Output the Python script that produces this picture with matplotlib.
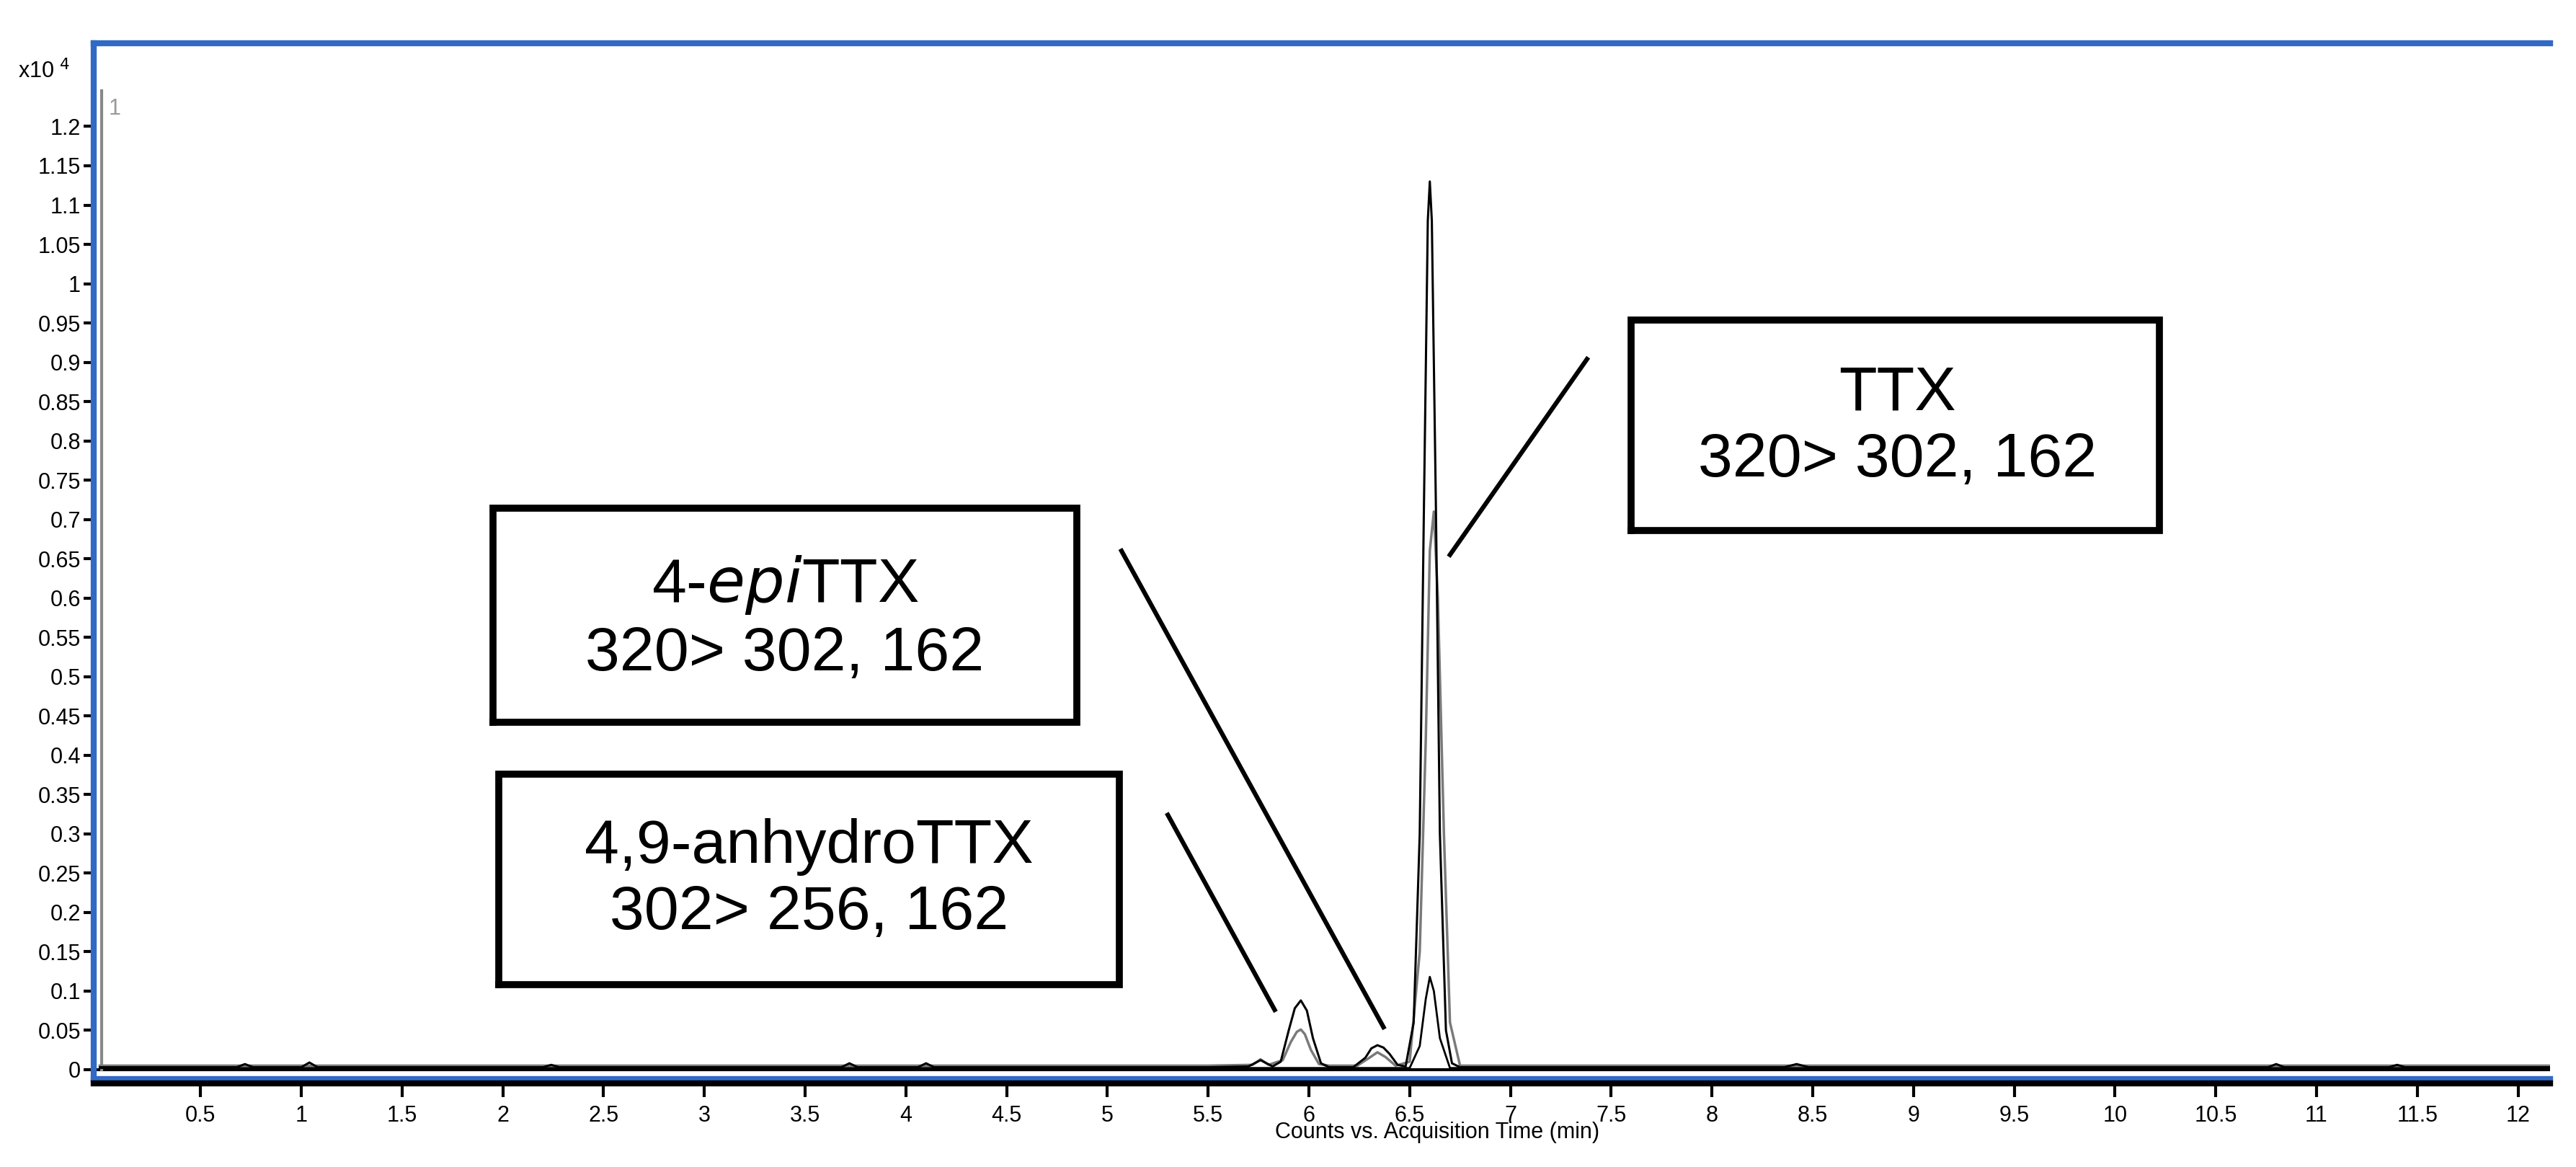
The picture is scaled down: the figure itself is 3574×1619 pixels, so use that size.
import matplotlib.pyplot as plt
import matplotlib.lines as mlines

plt.rcParams['font.family'] = ['Liberation Sans', 'DejaVu Sans']

# trace 1 (black, outer envelope)
t1 = [0.0, 0.68, 0.72, 0.76, 1.0, 1.04, 1.08, 2.2, 2.24, 2.28, 3.68, 3.72, 3.76, 4.06, 4.1, 4.14,
      5.5, 5.7, 5.76, 5.82, 5.86, 5.9, 5.93, 5.96, 5.99, 6.02, 6.06, 6.1, 6.22, 6.28, 6.31, 6.34,
      6.37, 6.4, 6.44, 6.48, 6.52, 6.55, 6.57, 6.59, 6.6, 6.61, 6.63, 6.65, 6.68, 6.71, 6.75,
      8.36, 8.42, 8.48, 10.76, 10.8, 10.84, 11.36, 11.4, 11.44, 12.2]
c1 = [0.003, 0.003, 0.007, 0.003, 0.003, 0.009, 0.003, 0.003, 0.006, 0.003, 0.003, 0.008, 0.003,
      0.003, 0.008, 0.003,
      0.003, 0.004, 0.012, 0.004, 0.01, 0.05, 0.078, 0.088, 0.075, 0.04, 0.008, 0.003, 0.003, 0.015,
      0.027, 0.031, 0.028, 0.02, 0.006, 0.004, 0.06, 0.3, 0.7, 1.08, 1.13, 1.08, 0.72, 0.3, 0.05,
      0.008, 0.003,
      0.003, 0.007, 0.003, 0.003, 0.007, 0.003, 0.003, 0.006, 0.003, 0.003]

# trace 2 (gray)
t2 = [0.0, 5.5, 5.72, 5.76, 5.8, 5.87, 5.91, 5.94, 5.96, 5.98, 6.01, 6.05, 6.1, 6.24, 6.3, 6.34,
      6.38, 6.43, 6.5, 6.55, 6.58, 6.6, 6.62, 6.64, 6.67, 6.7, 6.75, 12.2]
c2 = [0.005, 0.005, 0.006, 0.013, 0.006, 0.012, 0.035, 0.048, 0.051, 0.045, 0.025, 0.007, 0.005,
      0.005, 0.015, 0.022, 0.016, 0.005, 0.01, 0.15, 0.42, 0.66, 0.71, 0.6, 0.3, 0.06, 0.005, 0.005]

# trace 3 (black, small)
t3 = [0.0, 6.5, 6.55, 6.58, 6.6, 6.62, 6.65, 6.7, 12.2]
c3 = [0.002, 0.002, 0.03, 0.09, 0.118, 0.1, 0.04, 0.002, 0.002]

x_ticks = [0.5, 1, 1.5, 2, 2.5, 3, 3.5, 4, 4.5, 5, 5.5, 6, 6.5, 7, 7.5, 8, 8.5, 9, 9.5, 10,
           10.5, 11, 11.5, 12]
y_ticks = [0, 0.05, 0.1, 0.15, 0.2, 0.25, 0.3, 0.35, 0.4, 0.45, 0.5, 0.55, 0.6, 0.65, 0.7, 0.75,
           0.8, 0.85, 0.9, 0.95, 1, 1.05, 1.1, 1.15, 1.2]

# label boxes: text, text centre, box extent, leader line
labels = [
    ("TTX\n320> 302, 162", (8.92, 0.817), (7.60, 10.22, 0.686, 0.954), ((7.38, 0.904), (6.70, 0.655))),
    ("4-$\\it{epi}$TTX\n320> 302, 162", (3.40, 0.574), (1.95, 4.85, 0.442, 0.714), ((5.07, 0.660), (6.37, 0.054))),
    ("4,9-anhydroTTX\n302> 256, 162", (3.52, 0.241), (1.98, 5.06, 0.108, 0.376), ((5.30, 0.324), (5.83, 0.076))),
]

blue = '#3169c6'
fig = plt.figure(figsize=(35.74, 16.19), dpi=100)
ax = fig.add_axes([0.0364, 0.0754, 0.9536, 0.8876])
ax.set_xlim(-0.03, 12.16)
ax.set_ylim(-0.012, 1.306)

ax.axhline(0, color='black', lw=3, zorder=1)
ax.plot([0.01, 0.01], [0, 1.245], color='#888888', lw=3)
ax.plot(t2, c2, color='#7a7a7a', lw=2.5, zorder=3)
ax.plot(t1, c1, color='black', lw=2.2, zorder=4)
ax.plot(t3, c3, color='black', lw=2, zorder=4)
ax.text(0.045, 1.215, "1", color='#999999', fontsize=22)

for txt, (tx, ty), (x0, x1, y0, y1), ((lx0, ly0), (lx1, ly1)) in labels:
    ax.plot([x0, x1, x1, x0, x0], [y0, y0, y1, y1, y0], color='black', lw=7,
            solid_joinstyle='miter', zorder=5)
    ax.text(tx, ty, txt, ha='center', va='center', fontsize=62, linespacing=1.2, zorder=6)
    ax.plot([lx0, lx1], [ly0, ly1], color='black', lw=4.5, zorder=5)

for s in ['top', 'left', 'bottom']:
    ax.spines[s].set_color(blue)
    ax.spines[s].set_linewidth(6)
ax.spines['right'].set_visible(False)

ax.set_xticks(x_ticks)
ax.set_xticklabels([f"{v:g}" for v in x_ticks])
ax.set_yticks(y_ticks)
ax.set_yticklabels([f"{v:g}" for v in y_ticks])
ax.tick_params(axis='x', direction='out', length=18, width=3, pad=8, labelsize=22,
               color='black')
ax.tick_params(axis='y', direction='out', length=10, width=3, pad=3, labelsize=22,
               color='black')

# black axis line under the blue frame
fig.add_artist(mlines.Line2D([0.0364, 0.99], [0.0715, 0.0715], color='black', lw=6))

fig.text(0.558, 0.025, "Counts vs. Acquisition Time (min)", ha='center', fontsize=22)
fig.text(0.007, 0.933, "x10 $^{4}$", fontsize=22)

fig.savefig('out.png', dpi=100, facecolor='white')
